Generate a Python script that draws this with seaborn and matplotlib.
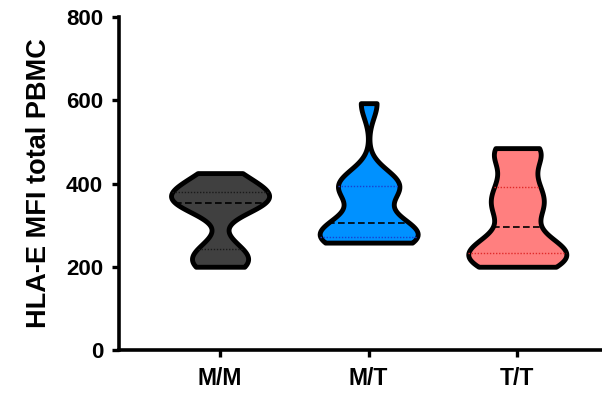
import numpy as np
import pandas as pd
import matplotlib
matplotlib.use("Agg")
import matplotlib.pyplot as plt
import seaborn as sns

# HLA-E MFI on total PBMC by genotype
genotypes = ["M/M", "M/T", "T/T"]
mfi_mm = [200, 210, 225, 250, 338, 350, 356, 368, 378, 385, 402, 425]
mfi_mt = [258, 262, 266, 272, 285, 300, 310, 378, 392, 400, 412, 593]
mfi_tt = [200, 205, 215, 225, 235, 240, 250, 270, 322, 345, 358, 385, 413, 468, 478, 485]

fill_colors = ["#404040", "#0091FF", "#FF7F7F"]
quart_colors = ["#1a1a1a", "#1a3fd0", "#e02a2a"]

df = pd.DataFrame({
    "genotype": ["M/M"] * len(mfi_mm) + ["M/T"] * len(mfi_mt) + ["T/T"] * len(mfi_tt),
    "mfi": mfi_mm + mfi_mt + mfi_tt,
})

sns.set_style("ticks")
plt.rcParams["font.family"] = ["Liberation Sans", "DejaVu Sans"]
plt.rcParams["font.weight"] = "bold"
plt.rcParams["text.color"] = "black"
plt.rcParams["axes.labelcolor"] = "black"
plt.rcParams["xtick.color"] = "black"
plt.rcParams["ytick.color"] = "black"

fig = plt.figure(figsize=(6.02, 3.97), dpi=100)
ax = fig.add_axes([119 / 602, 47 / 397, 1 - 119 / 602, 333 / 397])

sns.violinplot(
    data=df, x="genotype", y="mfi", order=genotypes, hue="genotype",
    hue_order=genotypes, palette=fill_colors, legend=False,
    cut=0, inner="quart", width=0.66, bw_adjust=0.6,
    linewidth=3.5, linecolor="black", saturation=1, ax=ax,
)

# style the inner quartile / median lines
lines = ax.lines
for i, col in enumerate(quart_colors):
    trio = lines[3 * i: 3 * i + 3]
    if len(trio) < 3:
        break
    for j, ln in enumerate(trio):
        if j == 1:
            ln.set_color("black")
            ln.set_linestyle((0, (4, 2)))
            ln.set_linewidth(1.2)
        else:
            ln.set_color(col)
            ln.set_linestyle((0, (1, 1.2)))
            ln.set_linewidth(1.0)

ax.set_ylim(0, 800)
ax.set_xlim(-0.68, 2.57)
ax.set_yticks([0, 200, 400, 600, 800])
ax.set_xlabel("")
ax.set_ylabel("HLA-E MFI total PBMC", fontsize=19.5, fontweight="bold", labelpad=10)
ax.tick_params(axis="both", width=2.4, length=5, color="black")
ax.tick_params(axis="y", labelsize=16, pad=6.5)
ax.tick_params(axis="x", labelsize=16.5, pad=7)
for lab in ax.get_xticklabels() + ax.get_yticklabels():
    lab.set_fontweight("bold")
sns.despine(ax=ax, top=True, right=True)
for s in ["left", "bottom"]:
    ax.spines[s].set_linewidth(2.6)
    ax.spines[s].set_color("black")

fig.savefig("out.png", dpi=100)
